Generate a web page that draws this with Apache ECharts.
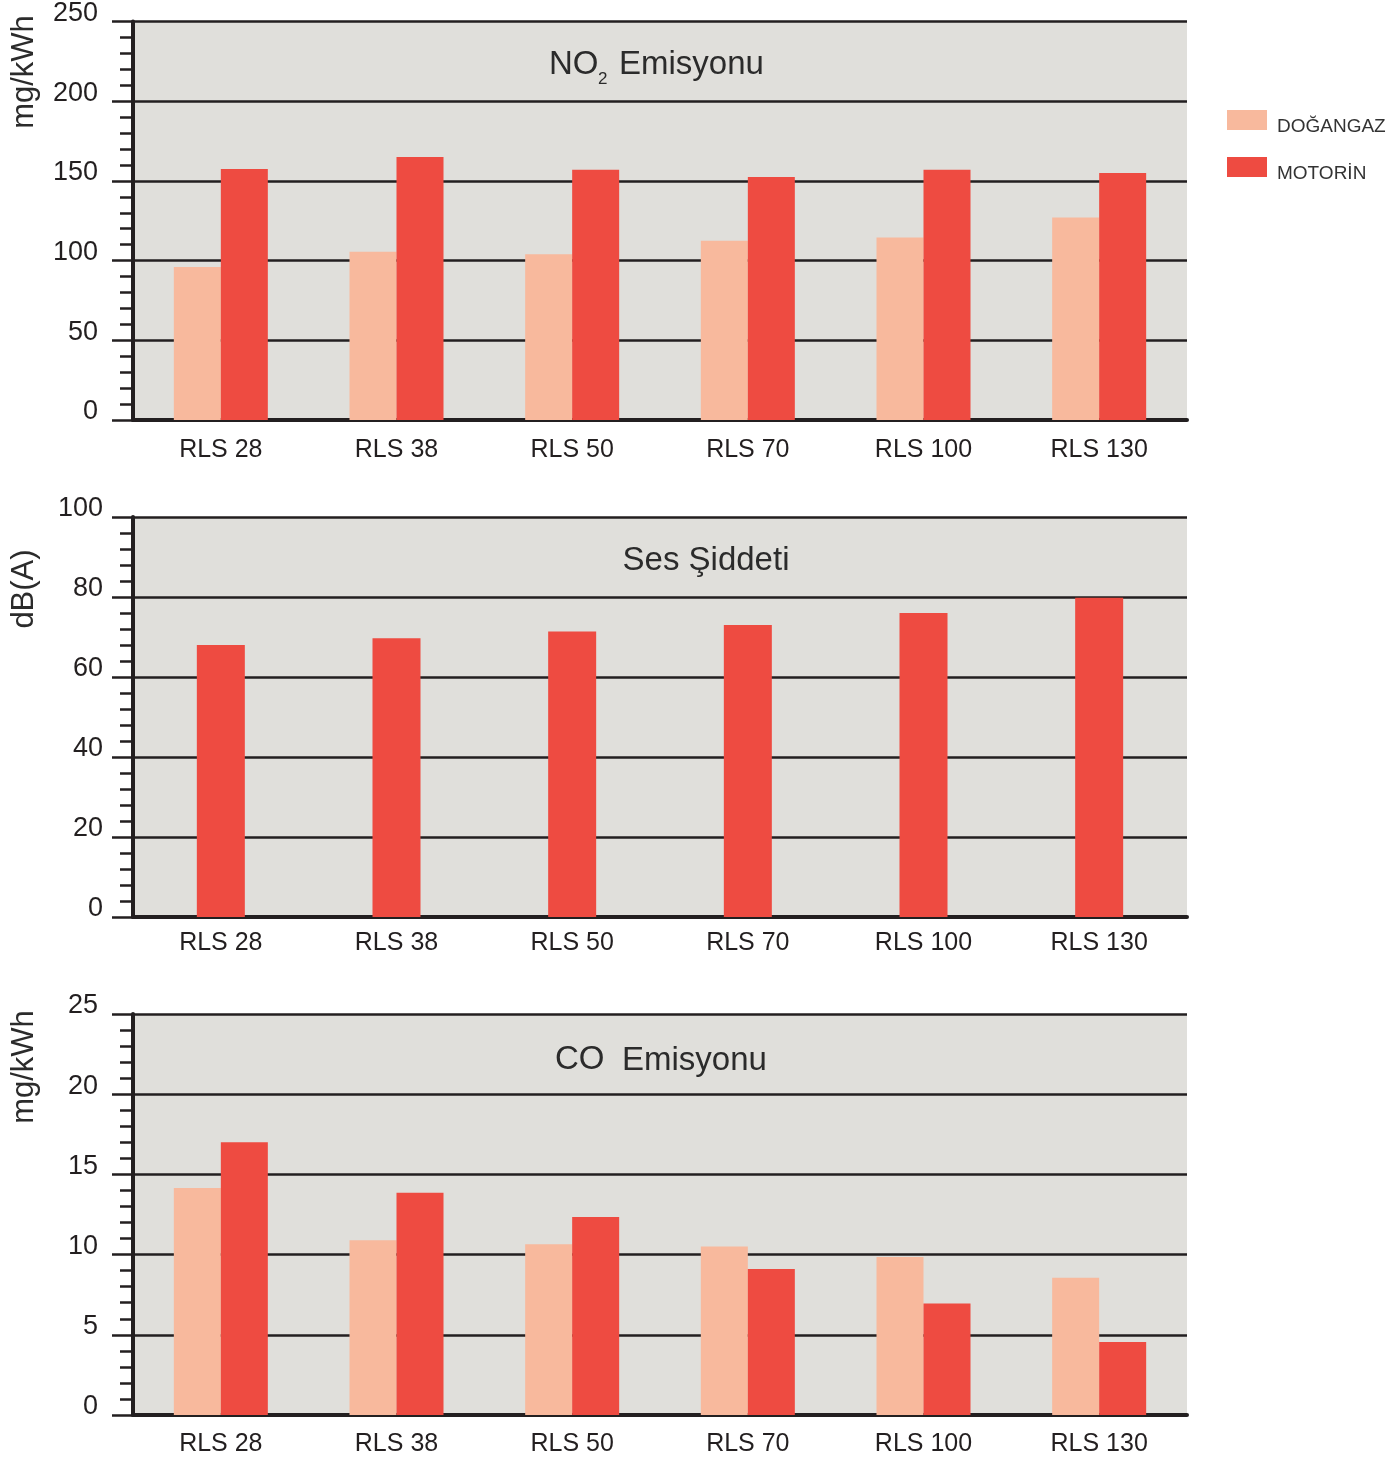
<!DOCTYPE html>
<html>
<head>
<meta charset="utf-8">
<script src="https://cdn.jsdelivr.net/npm/echarts@6/dist/echarts.min.js"></script>
<style>
html,body{margin:0;padding:0;background:#fff;}
#c{width:1398px;height:1462px;}
</style>
</head>
<body>
<div id="c"></div>
<script>
const categories = ['RLS 28', 'RLS 38', 'RLS 50', 'RLS 70', 'RLS 100', 'RLS 130'];
const seriesNames = ['DOĞANGAZ', 'MOTORİN'];
const no2Dogalgaz = [96, 105.5, 104, 112.5, 114.5, 127];
const no2Motorin = [157.5, 165, 157, 152.5, 157, 155];
const sesMotorin = [68, 69.7, 71.4, 73, 76, 79.8];
const coDogalgaz = [14.15, 10.9, 10.65, 10.5, 9.85, 8.55];
const coMotorin = [17, 13.85, 12.35, 9.1, 6.95, 4.55];
const no2Axis = {min: 0, max: 250, interval: 50};
const sesAxis = {min: 0, max: 100, interval: 20};
const coAxis = {min: 0, max: 25, interval: 5};

const FONT = '"Liberation Sans", Arial, Helvetica, sans-serif';
const DARK = '#231f20';
const C_DOG = '#f8b99d';
const C_MOT = '#ee4b41';

function yAxisCfg(idx, ax, labelMargin) {
  return {
    type: 'value', gridIndex: idx, min: ax.min, max: ax.max, interval: ax.interval,
    axisLine: {show: true, lineStyle: {color: DARK, width: 4}},
    axisTick: {show: true, length: 21, lineStyle: {color: DARK, width: 2.5}},
    minorTick: {show: true, splitNumber: 5, length: 13, lineStyle: {color: DARK, width: 2.5}},
    splitLine: {show: true, lineStyle: {color: DARK, width: 2.5}},
    minorSplitLine: {show: false},
    axisLabel: {
      margin: labelMargin, fontSize: 27, color: DARK, fontFamily: FONT,
      formatter: '{v|{value}}',
      rich: {v: {fontSize: 27, color: DARK, fontFamily: FONT, padding: [0, 0, 16, 0]}}
    }
  };
}
function xAxisCfg(idx, margin) {
  return {
    type: 'category', gridIndex: idx, data: categories,
    axisLine: {show: true, lineStyle: {color: DARK, width: 4}},
    axisTick: {show: false},
    splitLine: {show: false},
    axisLabel: {margin: margin, fontSize: 25, color: DARK, fontFamily: FONT}
  };
}
function gridCfg(top, height) {
  return {left: 133, top: top, width: 1054, height: height, show: true, backgroundColor: '#e0dfdb', borderWidth: 0};
}
function bar(name, data, idx, color) {
  return {
    name: name, type: 'bar', xAxisIndex: idx, yAxisIndex: idx, data: data,
    barWidth: 47, barGap: '0%', itemStyle: {color: color}, emphasis: {disabled: true}
  };
}
function txt(text, x, y, size, rot, align) {
  return {
    type: 'text', x: x, y: y, rotation: rot || 0,
    style: {text: text, font: size + 'px ' + FONT, fill: '#2b2b2b', textAlign: align || 'left', textVerticalAlign: 'middle'}
  };
}

const chart = echarts.init(document.getElementById('c'), null, {renderer: 'canvas'});
chart.setOption({
  animation: false,
  backgroundColor: '#ffffff',
  grid: [gridCfg(20, 400), gridCfg(517, 400), gridCfg(1014, 401)],
  xAxis: [xAxisCfg(0, 18), xAxisCfg(1, 14), xAxisCfg(2, 17)],
  yAxis: [yAxisCfg(0, no2Axis, 35), yAxisCfg(1, sesAxis, 30), yAxisCfg(2, coAxis, 35)],
  legend: {
    data: seriesNames, orient: 'vertical', left: 1222, top: 105,
    itemWidth: 40, itemHeight: 20, itemGap: 21, icon: 'rect',
    selectedMode: false,
    formatter: '{t|{name}}',
    textStyle: {fontSize: 19, color: '#333', fontFamily: FONT,
      rich: {t: {fontSize: 19, color: '#333', fontFamily: FONT, padding: [13, 0, 0, 5]}}}
  },
  series: [
    bar(seriesNames[0], no2Dogalgaz, 0, C_DOG),
    bar(seriesNames[1], no2Motorin, 0, C_MOT),
    Object.assign(bar(seriesNames[1], sesMotorin, 1, C_MOT), {barWidth: 48}),
    bar(seriesNames[0], coDogalgaz, 2, C_DOG),
    bar(seriesNames[1], coMotorin, 2, C_MOT)
  ],
  graphic: [
    txt('NO', 549, 65, 33),
    txt('2', 598, 79, 17),
    txt('Emisyonu', 619, 65, 33),
    txt('Ses Şiddeti', 706, 561, 33, 0, 'center'),
    txt('CO', 555, 1060, 33),
    txt('Emisyonu', 622, 1061, 33),
    txt('mg/kWh', 24, 72, 31, Math.PI / 2, 'center'),
    txt('dB(A)', 24, 589, 31, Math.PI / 2, 'center'),
    txt('mg/kWh', 24, 1067, 31, Math.PI / 2, 'center')
  ]
});
</script>
</body>
</html>
